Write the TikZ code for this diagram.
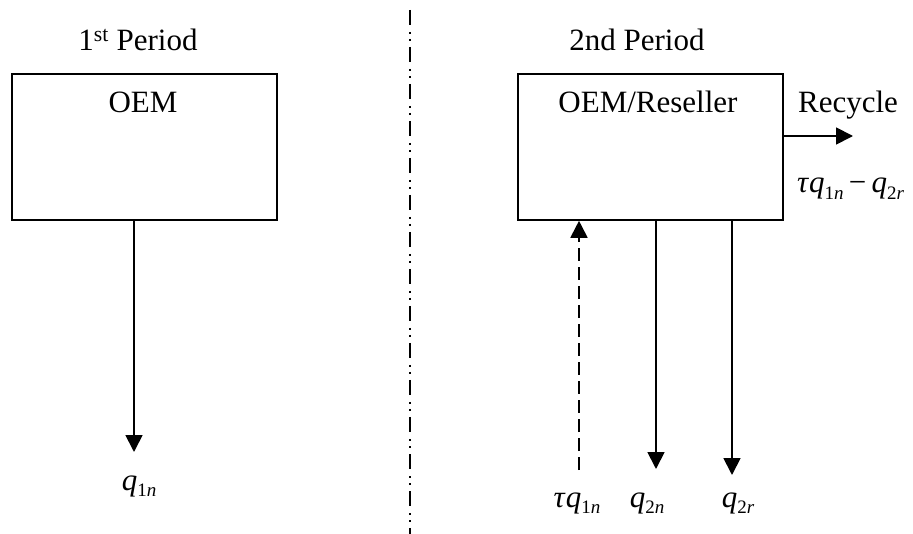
\documentclass[tikz,border=0pt]{standalone}
\usepackage{fontspec}
\setmainfont{Liberation Serif}
\usetikzlibrary{arrows.meta}
\newcommand\subx[1]{\raisebox{-0.22em}{\fontsize{19}{19}\selectfont #1}}
\newcommand\qq[2]{\textit{q}\subx{#1\textit{#2}}}
\begin{document}
\begin{tikzpicture}[x=1pt,y=-1pt,
  box/.style={draw,line width=1.8pt,minimum width=265pt,minimum height=146pt,anchor=north west,inner sep=0pt},
  txt/.style={font=\fontsize{31}{36}\selectfont,anchor=base,inner sep=0pt},
  arr/.style={line width=1.8pt,-{Triangle[length=17pt,width=17pt]}},
  dasharr/.style={arr,dash pattern=on 13pt off 6pt},
  divider/.style={line width=2pt,dash pattern=on 15pt off 7pt on 2pt off 5pt on 2pt off 6pt}]
\useasboundingbox (0,0) rectangle (913,534);
% divider
\coordinate (dtop) at (409.5,10);
\coordinate (dbot) at (409.5,534);
\draw[divider] (dtop) -- (dbot);
% titles
\node[txt] (t1) at (138,51) {1\textsuperscript{st} Period};
\node[txt] (t2) at (637,51) {2nd Period};
% boxes
\node[box] (oem) at (11,73) {};
\node[box] (res) at (517,73) {};
\node[txt] (oemt) at (143,113) {OEM};
\node[txt] (rest) at (648,113) {OEM/Reseller};
% recycle
\node[txt] (rec) at (848,113) {Recycle};
\node[txt,anchor=base west] (recq) at (797,193) {\textit{τ}\qq{1}{n}\,−\,\qq{2}{r}};
\coordinate (recend) at (853,136);
\draw[arr] (res.east |- recend) -- (recend);
% labels
\node[txt] (q1n) at (139,490) {\qq{1}{n}};
\node[txt] (tq1n) at (577,507) {\textit{τ}\qq{1}{n}};
\node[txt] (q2n) at (647,507) {\qq{2}{n}};
\node[txt] (q2r) at (738,507) {\qq{2}{r}};
% arrows
\coordinate (a1) at (134,452);
\draw[arr] (oem.south -| a1) -- (a1);
\coordinate (a2) at (579,470);
\draw[dasharr] (a2) -- (res.south -| a2);
\coordinate (a3) at (656,469);
\draw[arr] (res.south -| a3) -- (a3);
\coordinate (a4) at (732,475);
\draw[arr] (res.south -| a4) -- (a4);
\end{tikzpicture}
\end{document}
